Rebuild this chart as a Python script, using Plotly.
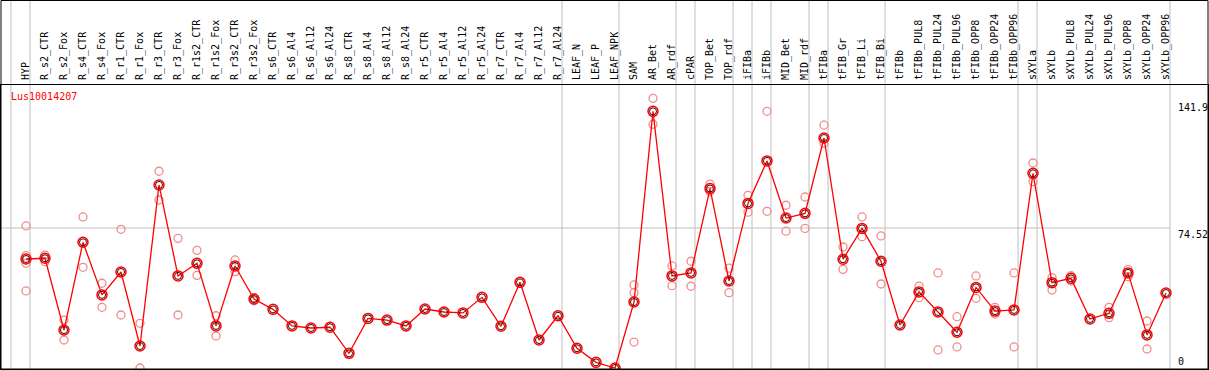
import plotly.graph_objects as go

categories = ["HYP", "R_s2_CTR", "R_s2_Fox", "R_s4_CTR", "R_s4_Fox", "R_r1_CTR", "R_r1_Fox",
              "R_r3_CTR", "R_r3_Fox", "R_r1s2_CTR", "R_r1s2_Fox", "R_r3s2_CTR", "R_r3s2_Fox",
              "R_s6_CTR", "R_s6_Al4", "R_s6_Al12", "R_s6_Al24", "R_s8_CTR", "R_s8_Al4",
              "R_s8_Al12", "R_s8_Al24", "R_r5_CTR", "R_r5_Al4", "R_r5_Al12", "R_r5_Al24",
              "R_r7_CTR", "R_r7_Al4", "R_r7_Al12", "R_r7_Al24", "LEAF_N", "LEAF_P", "LEAF_NPK",
              "SAM", "AR_Bet", "AR_rdf", "cPAR", "TOP_Bet", "TOP_rdf", "iFIBa", "iFIBb",
              "MID_Bet", "MID_rdf", "tFIBa", "tFIB_Gr", "tFIB_Li", "tFIB_Bi", "tFIBb",
              "tFIBb_PUL8", "tFIBb_PUL24", "tFIBb_PUL96", "tFIBb_OPP8", "tFIBb_OPP24",
              "tFIBb_OPP96", "sXYLa", "sXYLb", "sXYLb_PUL8", "sXYLb_PUL24", "sXYLb_PUL96",
              "sXYLb_OPP8", "sXYLb_OPP24", "sXYLb_OPP96"]

mean_values = [58.0, 58.4, 20.2, 66.9, 38.9, 51.1, 11.7,
               97.4, 49.0, 55.7, 22.4, 54.3, 36.7,
               31.2, 22.4, 21.3, 21.7, 7.8, 26.4,
               25.5, 22.4, 31.4, 29.8, 29.3, 37.6,
               22.2, 45.6, 14.9, 27.8, 10.5, 3.0, 0.0,
               35.1, 136.6, 49.0, 50.6, 95.5, 46.3, 87.6, 110.2,
               79.8, 82.3, 122.4, 57.9, 74.3, 56.8, 22.9,
               40.5, 29.8, 19.0, 42.9, 30.3,
               30.9, 103.6, 45.4, 47.7, 26.1, 29.1,
               50.6, 17.6, 39.9]

replicate_values = [
    [75.6, 59.8, 55.7, 41.0], [60.1, 56.6], [25.5, 14.9], [80.4, 53.6], [45.1, 32.3],
    [73.8, 28.2], [23.8, 0.0], [104.7, 89.4], [69.0, 28.2], [62.6, 49.3], [27.8, 17.0],
    [57.5, 51.3], [37.4, 35.8],
    [], [], [], [], [], [], [], [], [], [], [], [], [], [], [], [], [], [], [],
    [44.2, 40.1, 13.8], [143.5, 129.7], [54.3, 43.8], [56.8, 43.5], [97.9, 93.9],
    [53.1, 40.1], [91.9, 82.9], [136.6, 83.4], [86.6, 72.8], [91.0, 74.3],
    [129.2, 119.6], [64.4, 52.5], [80.4, 69.9], [70.3, 44.7], [],
    [43.6, 37.4], [50.6, 9.6], [27.3, 11.2], [49.0, 37.1], [32.3, 28.7], [50.6, 11.2],
    [109.1, 99.2], [48.1, 41.5], [49.1, 46.3], [], [32.3, 26.8], [52.5, 48.6],
    [25.0, 10.1], []
]

# indexes after which a grey separator line is drawn
separator_after = [-1, 0, 28, 31, 34, 35, 37, 38, 39, 41, 42, 45, 52, 53, 60]

y_labels = ["141.9", "74.52", "0"]
y_label_values = [141.9, 74.52, 0.0]
gene_title = "Lus10014207"

FONT = "DejaVu Sans Mono"
x_idx = list(range(len(categories)))

rep_x, rep_y = [], []
for i, reps in enumerate(replicate_values):
    for v in reps:
        rep_x.append(i)
        rep_y.append(v)

fig = go.Figure()
fig.add_trace(go.Scatter(x=rep_x, y=rep_y, mode="markers", cliponaxis=False,
                         marker=dict(symbol="circle-open", size=8, color="#f08c8c",
                                     line=dict(width=1.3, color="#f08c8c")),
                         hoverinfo="skip", showlegend=False))
fig.add_trace(go.Scatter(x=x_idx, y=mean_values, mode="lines", cliponaxis=False,
                         line=dict(color="#ff0000", width=1.3), showlegend=False))
fig.add_trace(go.Scatter(x=x_idx, y=mean_values, mode="markers", cliponaxis=False,
                         marker=dict(symbol="circle-open", size=10, color="#ff0000",
                                     line=dict(width=1.5, color="#ff0000")),
                         showlegend=False))
fig.add_trace(go.Scatter(x=x_idx, y=mean_values, mode="markers", cliponaxis=False,
                         marker=dict(symbol="circle-open", size=7, color="#400000",
                                     line=dict(width=1, color="#400000")),
                         showlegend=False))

n = len(categories)
x_lo = -1.316
x_hi = 62.21
y_lo = -0.53
y_hi = 150.6
plot_h = 284.0
top_paper = (369 - 0.5) / plot_h

shapes = []
for s in separator_after:
    shapes.append(dict(type="line", xref="x", yref="paper", x0=s + 0.21, x1=s + 0.21,
                       y0=0, y1=top_paper, line=dict(color="#c0c0c0", width=1), layer="below"))
shapes.append(dict(type="line", xref="x", yref="y", x0=x_lo, x1=n - 1 + 0.21,
                   y0=y_label_values[1], y1=y_label_values[1],
                   line=dict(color="#c0c0c0", width=1), layer="below"))
shapes.append(dict(type="rect", xref="paper", yref="paper", x0=0, x1=1, y0=0, y1=top_paper,
                   line=dict(color="black", width=1)))

annotations = [dict(text=gene_title, xref="paper", yref="paper", x=0.0066, y=0.958,
                    xanchor="left", yanchor="middle", showarrow=False,
                    font=dict(family=FONT, size=10, color="#ff0000"))]
for lab, v in zip(y_labels, y_label_values):
    annotations.append(dict(text=lab, xref="x", yref="y", x=n - 1 + 0.60, y=v,
                            xanchor="left", yanchor="bottom" if v == 0 else "top",
                            showarrow=False, borderpad=0,
                            font=dict(family=FONT, size=10, color="black")))

fig.update_layout(
    width=1209, height=370,
    margin=dict(l=1, r=1, t=85, b=1),
    paper_bgcolor="white", plot_bgcolor="white",
    shapes=shapes, annotations=annotations,
    xaxis=dict(range=[x_lo, x_hi], side="top", tickmode="array", tickvals=x_idx,
               ticktext=categories, tickangle=-90, showgrid=False, zeroline=False,
               ticks="", ticklabelstandoff=2, showline=True, linecolor="black", linewidth=1,
               mirror=True, tickfont=dict(family=FONT, size=10, color="black")),
    yaxis=dict(range=[y_lo, y_hi], showgrid=False, zeroline=False, showticklabels=False,
               ticks="", showline=True, linecolor="black", linewidth=1, mirror=True),
)

fig.write_html("out.html", config={"displayModeBar": False},
               post_script="document.body.style.margin='0';document.body.style.padding='0';")
